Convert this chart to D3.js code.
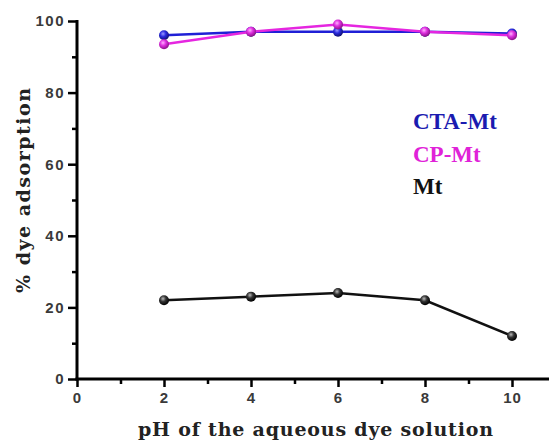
<!DOCTYPE html>
<html>
<head>
<meta charset="utf-8">
<script src="https://cdn.jsdelivr.net/npm/d3@7"></script>
<style>
  html, body { margin: 0; padding: 0; background: #fff; }
  svg { display: block; }
  .serif { font-family: "DejaVu Serif", serif; }
  .times { font-family: "Liberation Serif", serif; }
</style>
</head>
<body>
<div id="chart"></div>
<script>
// pH values tested and % dye adsorption for each adsorbent
const phValues = [2, 4, 6, 8, 10];
const ctaMt = [96, 97, 97, 97, 96.5];
const cpMt = [93.5, 97, 99, 97, 96];
const mt = [22, 23, 24, 22, 12];

const seriesNames = ["CTA-Mt", "CP-Mt", "Mt"];
const seriesValues = [ctaMt, cpMt, mt];
const lineColors = ["#1f1fd6", "#e526e0", "#111111"];
const labelColors = ["#1b1bb0", "#e022d8", "#111111"];

const xMajorTicks = [0, 2, 4, 6, 8, 10];
const xMinorTicks = [1, 3, 5, 7, 9];
const yMajorTicks = [0, 20, 40, 60, 80, 100];
const yMinorTicks = [10, 30, 50, 70, 90];

const W = 549, H = 441;
const svg = d3.select("#chart").append("svg").attr("width", W).attr("height", H);

const x = d3.scaleLinear().domain([0, 10]).range([77, 512]);
const y = d3.scaleLinear().domain([0, 100]).range([379, 21]);

// sphere-like marker fills
const defs = svg.append("defs");
function sphere(id, light, base, dark) {
  const g = defs.append("radialGradient").attr("id", id)
    .attr("cx", "40%").attr("cy", "35%").attr("r", "65%");
  g.append("stop").attr("offset", "0%").attr("stop-color", light);
  g.append("stop").attr("offset", "45%").attr("stop-color", base);
  g.append("stop").attr("offset", "100%").attr("stop-color", dark);
}
sphere("sp0", "#9a9aff", "#2a2ae0", "#101070");
sphere("sp1", "#ffb0ff", "#e030e0", "#8a1088");
sphere("sp2", "#bbbbbb", "#333333", "#000000");

// axes
const tickFont = "Liberation Sans, Arial, sans-serif";
const axisG = svg.append("g");

// y axis
const yAxis = d3.axisLeft(y).tickValues(yMajorTicks).tickSize(9).tickPadding(3);
const yG = axisG.append("g").attr("transform", `translate(${x(0)},0)`).call(yAxis);
yG.select(".domain").remove();
yG.selectAll(".tick line").attr("stroke", "#000").attr("stroke-width", 2.5);
yG.selectAll(".tick text").attr("font-family", tickFont).attr("font-weight", "bold")
  .attr("font-size", 15).attr("fill", "#3a3a3a").attr("letter-spacing", 1.5);
const yMinor = d3.axisLeft(y).tickValues(yMinorTicks).tickSize(5).tickFormat("");
const yMG = axisG.append("g").attr("transform", `translate(${x(0)},0)`).call(yMinor);
yMG.select(".domain").remove();
yMG.selectAll(".tick line").attr("stroke", "#000").attr("stroke-width", 2.5);
axisG.append("line").attr("x1", x(0)).attr("x2", x(0))
  .attr("y1", y(100) - 1).attr("y2", y(0) + 1.5)
  .attr("stroke", "#000").attr("stroke-width", 3);

// x axis
const xAxis = d3.axisBottom(x).tickValues(xMajorTicks).tickSize(8).tickPadding(5);
const xG = axisG.append("g").attr("transform", `translate(0,${y(0)})`).call(xAxis);
xG.select(".domain").remove();
xG.selectAll(".tick line").attr("stroke", "#000").attr("stroke-width", 2.5);
xG.selectAll(".tick text").attr("font-family", tickFont).attr("font-weight", "bold")
  .attr("font-size", 15).attr("fill", "#3a3a3a").attr("letter-spacing", 1);
const xMinor = d3.axisBottom(x).tickValues(xMinorTicks).tickSize(5).tickFormat("");
const xMG = axisG.append("g").attr("transform", `translate(0,${y(0)})`).call(xMinor);
xMG.select(".domain").remove();
xMG.selectAll(".tick line").attr("stroke", "#000").attr("stroke-width", 2.5);
axisG.append("line").attr("x1", x(0) - 1.5).attr("x2", W)
  .attr("y1", y(0)).attr("y2", y(0))
  .attr("stroke", "#000").attr("stroke-width", 3);

// series lines and markers
const line = d3.line().x((d, i) => x(phValues[i])).y(d => y(d));
seriesValues.forEach((vals, s) => {
  const g = svg.append("g");
  g.append("path").datum(vals).attr("d", line)
    .attr("fill", "none").attr("stroke", lineColors[s]).attr("stroke-width", 2.5);
  g.selectAll("circle").data(vals).join("circle")
    .attr("cx", (d, i) => x(phValues[i])).attr("cy", d => y(d)).attr("r", 5)
    .attr("fill", `url(#sp${s})`);
});

// legend labels
const legendY = [129, 162, 194];
seriesNames.forEach((name, s) => {
  svg.append("text").attr("class", "times").attr("x", 413).attr("y", legendY[s])
    .style("font-weight", "bold").style("font-size", "23px")
    .attr("fill", labelColors[s]).text(name);
});

// axis titles
svg.append("text").attr("class", "serif").attr("x", 138).attr("y", 436)
  .style("font-weight", "bold").style("font-size", "19px").attr("fill", "#222")
  .attr("textLength", 355).attr("lengthAdjust", "spacing")
  .text("pH of the aqueous dye solution");

svg.append("text").attr("class", "serif").attr("transform", "translate(30,293) rotate(-90)")
  .style("font-weight", "bold").style("font-size", "19px").attr("fill", "#222")
  .attr("textLength", 205).attr("lengthAdjust", "spacing")
  .text("% dye adsorption");
</script>
</body>
</html>
